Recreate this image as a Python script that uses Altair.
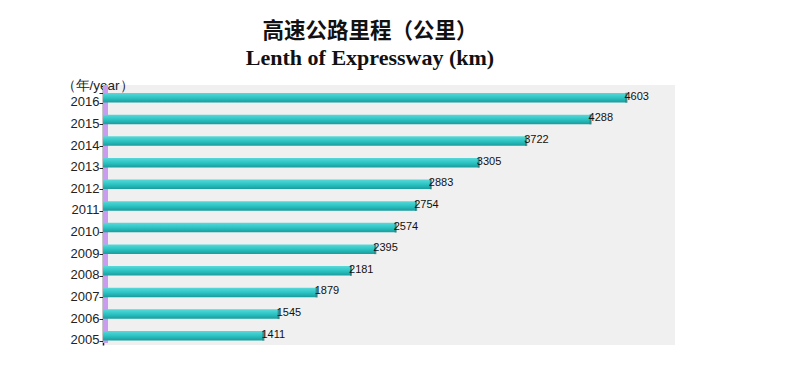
import altair as alt
import pandas as pd

years = ["2016", "2015", "2014", "2013", "2012", "2011", "2010", "2009", "2008", "2007", "2006", "2005"]
km = [4603, 4288, 3722, 3305, 2883, 2754, 2574, 2395, 2181, 1879, 1545, 1411]

df = pd.DataFrame({"year": years, "km": km})

W, H = 572, 260

y_enc = alt.Y("year:N", sort=years,
              scale=alt.Scale(paddingInner=0.55, paddingOuter=0.285, align=0.64),
              axis=alt.Axis(title="（年/year）", titleAngle=0, titleAlign="left",
                            titleBaseline="middle", titleX=-42, titleY=0,
                            titleFontWeight="normal", titleFontSize=13.5,
                            titleFont="Liberation Sans", titleColor="#222",
                            labelFont="Liberation Sans", labelFontSize=13,
                            labelColor="#222", labelPadding=0, labelBaseline="middle",
                            labelOffset=4,
                            tickSize=4, tickColor="#222", tickBand="extent", tickOffset=9,
                            domainColor="#222", domainWidth=1.5, grid=False))
x_enc = alt.X("km:Q", scale=alt.Scale(domain=[0, 5030], nice=False), axis=None)

strip = alt.Chart(df).mark_rect(color="#c99cf0").encode(
    x=alt.value(0), x2=alt.value(5), y=alt.value(0), y2=alt.value(H - 2)
)

grad = alt.Gradient(gradient="linear", x1=0, x2=0, y1=0, y2=1,
                    stops=[alt.GradientStop(color="#5ad8d8", offset=0),
                           alt.GradientStop(color="#2cc4c4", offset=0.5),
                           alt.GradientStop(color="#1a9c9c", offset=1)])

bars = alt.Chart(df).mark_bar(color=grad, size=9.5).encode(
    y=y_enc, x=x_enc
)

caps = alt.Chart(df).mark_tick(color="#1a6f6f", thickness=2, size=10).encode(
    y=alt.Y("year:N", sort=years), x=x_enc
)

labels = alt.Chart(df).mark_text(align="left", baseline="middle", dx=-2, dy=-1,
                                 font="Liberation Sans", fontSize=11, color="#111").encode(
    y=alt.Y("year:N", sort=years), x=x_enc, text="km:Q"
)

chart = alt.layer(strip, bars, caps, labels).properties(
    width=W, height=H,
    title=alt.TitleParams(
        text="高速公路里程（公里）",
        subtitle="Lenth of Expressway (km)",
        font="Noto Sans CJK SC", fontSize=21.5, fontWeight="bold", color="#111",
        subtitleFont="Liberation Serif", subtitleFontSize=22, subtitleFontWeight="bold",
        subtitleColor="#111", subtitlePadding=6, anchor="middle", dx=-19, offset=9
    ),
    autosize=alt.AutoSizeParams(type="none"),
    padding={"left": 95, "top": 77, "right": 117, "bottom": 19},
).configure(background="white").configure_view(fill="#f0f0f0", stroke=None)

chart.save("out.html", embed_options={"renderer": "svg", "actions": False})
